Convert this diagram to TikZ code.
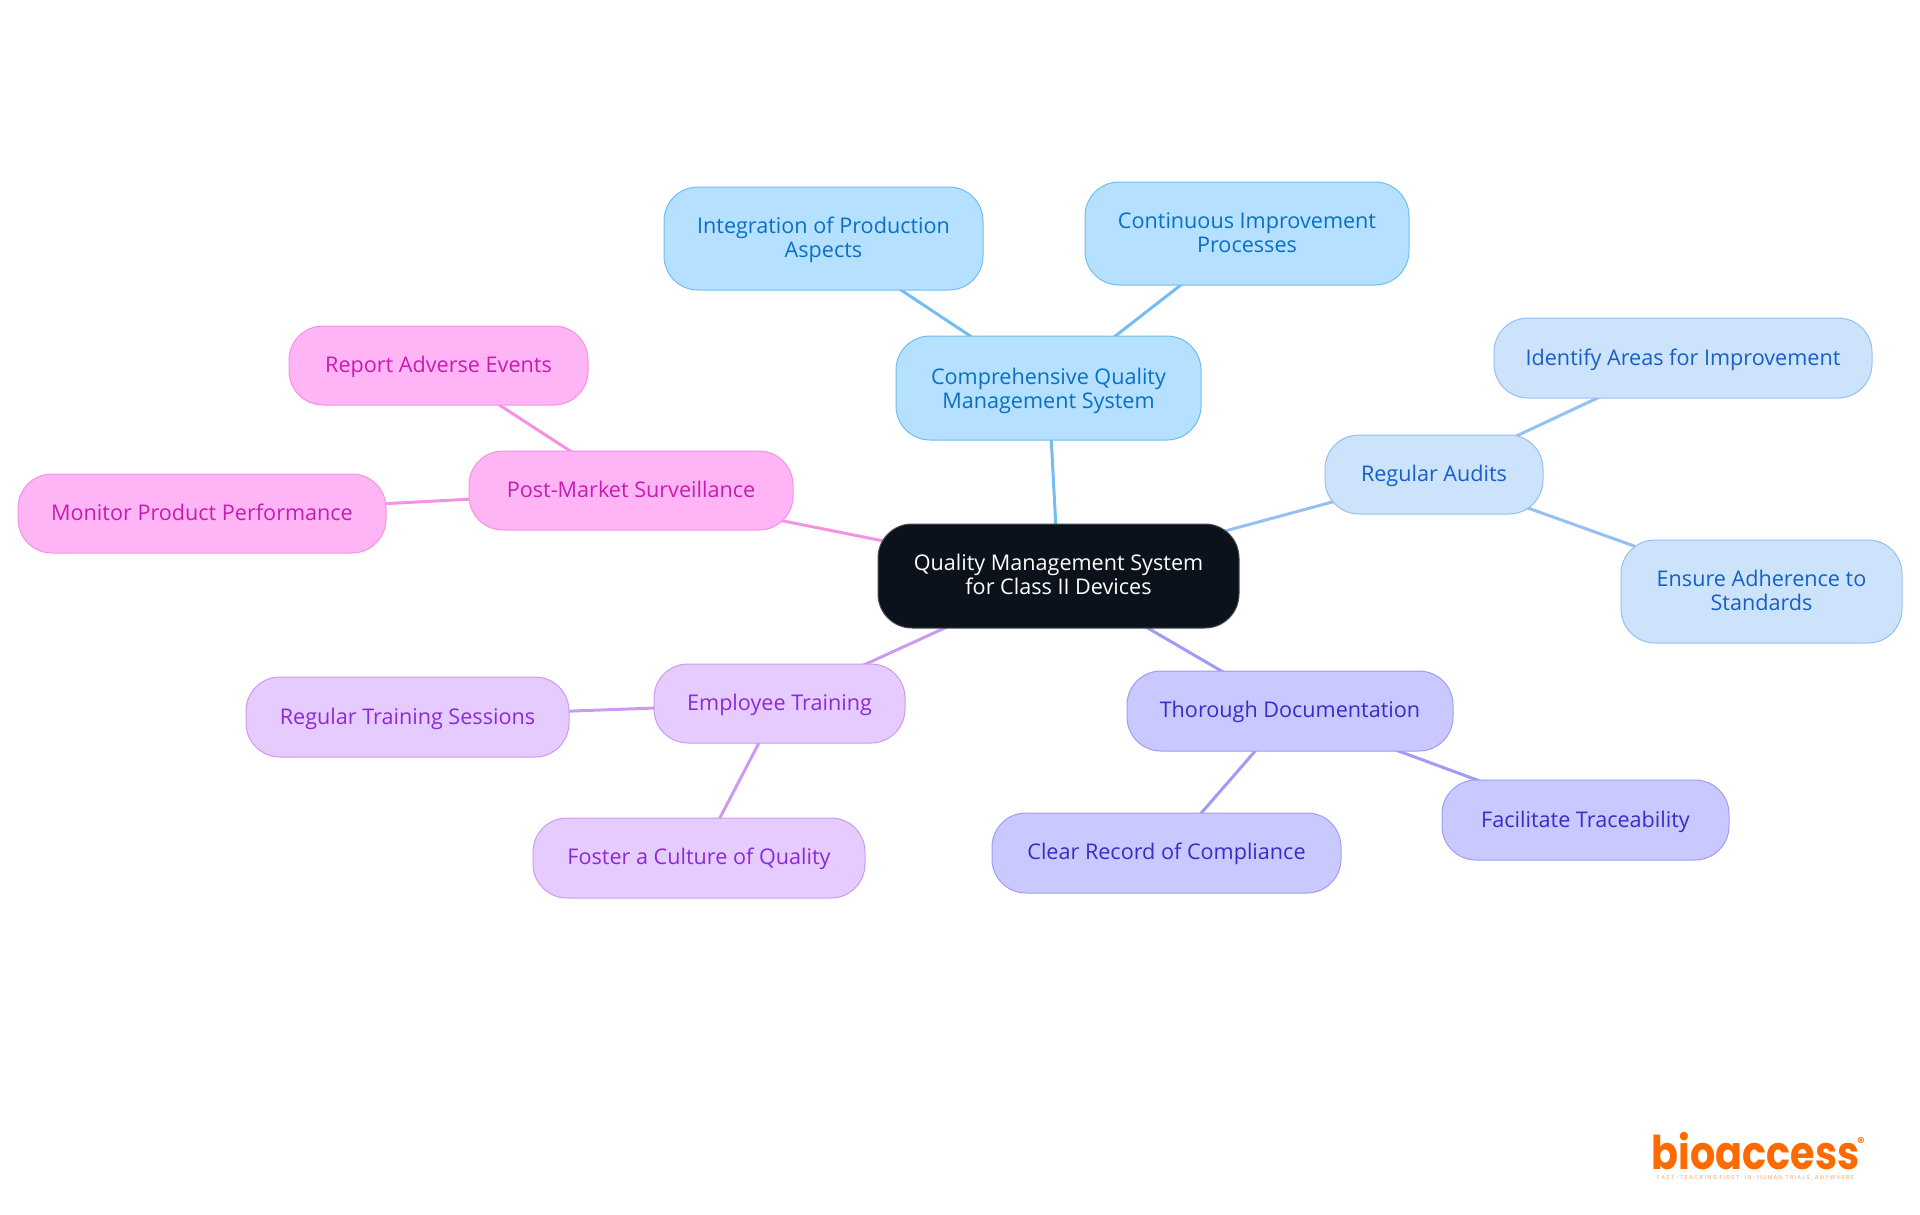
\documentclass[tikz,border=0pt]{standalone}
\usepackage{fontspec}
\usepackage{graphicx}
\setmainfont{Open Sans}
\newfontfamily\logofont{Poppins}
\newfontfamily\tagfont[LetterSpace=24]{Poppins}
\usetikzlibrary{backgrounds}
\definecolor{rootc}{HTML}{0B121B}
\definecolor{bFill}{HTML}{B5E0FF}\definecolor{bLine}{HTML}{75BDF0}\definecolor{bText}{HTML}{0B6FC2}
\definecolor{cFill}{HTML}{CDE3FC}\definecolor{cLine}{HTML}{94C0F2}\definecolor{cText}{HTML}{1560C8}
\definecolor{iFill}{HTML}{C9C9FF}\definecolor{iLine}{HTML}{A09CF5}\definecolor{iText}{HTML}{3A2BC8}
\definecolor{pFill}{HTML}{E6CBFF}\definecolor{pLine}{HTML}{CB9BF3}\definecolor{pText}{HTML}{8A2BD8}
\definecolor{mFill}{HTML}{FFB5F5}\definecolor{mLine}{HTML}{F592E4}\definecolor{mText}{HTML}{C81CB0}
\definecolor{logoc}{HTML}{FF6A00}
\tikzset{
  x=1pt,y=-1pt,
  mm/.style={rounded corners=34pt,draw,line width=1pt,inner sep=0pt,font=\fontsize{21.6}{24}\selectfont},
  rootn/.style={mm,fill=rootc,draw=rootc!75!white,text=white},
  bn/.style={mm,fill=bFill,draw=bLine,text=bText},
  cn/.style={mm,fill=cFill,draw=cLine,text=cText},
  idn/.style={mm,fill=iFill,draw=iLine,text=iText},
  pn/.style={mm,fill=pFill,draw=pLine,text=pText},
  mn/.style={mm,fill=mFill,draw=mLine,text=mText},
  edge/.style={line width=3pt},
}
% style, name, x0,y0,x1,y1, dy (px, positive = down), text
\newcommand{\boxat}[8]{\node[#1,minimum width=#5pt-#3pt,minimum height=#6pt-#4pt] (#2) at ({(#3+#5)/2},{(#4+#6)/2}) {\raisebox{\dimexpr-7.4pt-#7pt\relax}[0pt][0pt]{\begin{tabular}{@{}c@{}}#8\end{tabular}}};}
\begin{document}
\begin{tikzpicture}
\useasboundingbox (0,0) rectangle (1920,1215);
\boxat{rootn}{root}{878}{524}{1239}{628}{-1}{Quality Management System\\for Class II Devices}
\boxat{bn}{comp}{896}{336}{1201}{440}{1}{Comprehensive Quality\\Management System}
\boxat{bn}{integ}{664}{187}{983}{290}{-0.5}{Integration of Production\\Aspects}
\boxat{bn}{cont}{1085}{182}{1409}{285}{0}{Continuous Improvement\\Processes}
\boxat{cn}{audits}{1325}{435}{1543}{514}{0}{Regular Audits}
\boxat{cn}{ident}{1494}{318}{1872}{398}{0}{Identify Areas for Improvement}
\boxat{cn}{ensure}{1621}{540}{1902}{643}{-0.5}{Ensure Adherence to\\Standards}
\boxat{idn}{thor}{1127}{671}{1453}{751}{-1}{Thorough Documentation}
\boxat{idn}{facil}{1442}{780}{1729}{860}{0.5}{Facilitate Traceability}
\boxat{idn}{clear}{992}{813}{1341}{893}{-1}{Clear Record of Compliance}
\boxat{pn}{emp}{654}{664}{905}{743}{0}{Employee Training}
\boxat{pn}{sess}{246}{677}{569}{757}{0.5}{Regular Training Sessions}
\boxat{pn}{foster}{533}{818}{865}{898}{-1}{Foster a Culture of Quality}
\boxat{mn}{pms}{469}{451}{793}{530}{0}{Post-Market Surveillance}
\boxat{mn}{report}{289}{326}{588}{405}{0}{Report Adverse Events}
\boxat{mn}{monitor}{18}{474}{386}{553}{0}{Monitor Product Performance}
\begin{scope}[on background layer]
\draw[edge,bLine] (root.center)--(comp.center);
\draw[edge,bLine] (comp.center)--(integ.center);
\draw[edge,bLine] (comp.center)--(cont.center);
\draw[edge,cLine] (root.center)--(audits.center);
\draw[edge,cLine] (audits.center)--(ident.center);
\draw[edge,cLine] (audits.center)--(ensure.center);
\draw[edge,iLine] (root.center)--(thor.center);
\draw[edge,iLine] (thor.center)--(facil.center);
\draw[edge,iLine] (thor.center)--(clear.center);
\draw[edge,pLine] (root.center)--(emp.center);
\draw[edge,pLine] (emp.center)--(sess.center);
\draw[edge,pLine] (emp.center)--(foster.center);
\draw[edge,mLine] (root.center)--(pms.center);
\draw[edge,mLine] (pms.center)--(report.center);
\draw[edge,mLine] (pms.center)--(monitor.center);
\end{scope}
\node[text=logoc,inner sep=0pt,anchor=base,font=\logofont\bfseries\fontsize{39.7}{40}\selectfont] (logo) at (1755.5,1169) {\scalebox{1}[1.17]{bioaccess}};
\node[text=logoc,inner sep=0pt,font=\logofont\bfseries\fontsize{14}{14}\selectfont] (reg) at (1861,1142) {®};
\node[text=logoc!60!white,inner sep=0pt,anchor=base,font=\tagfont\fontsize{5.6}{6}\selectfont] (tag) at (1755.5,1179) {FAST-TRACKING FIRST-IN-HUMAN TRIALS, ANYWHERE};
\end{tikzpicture}
\end{document}
